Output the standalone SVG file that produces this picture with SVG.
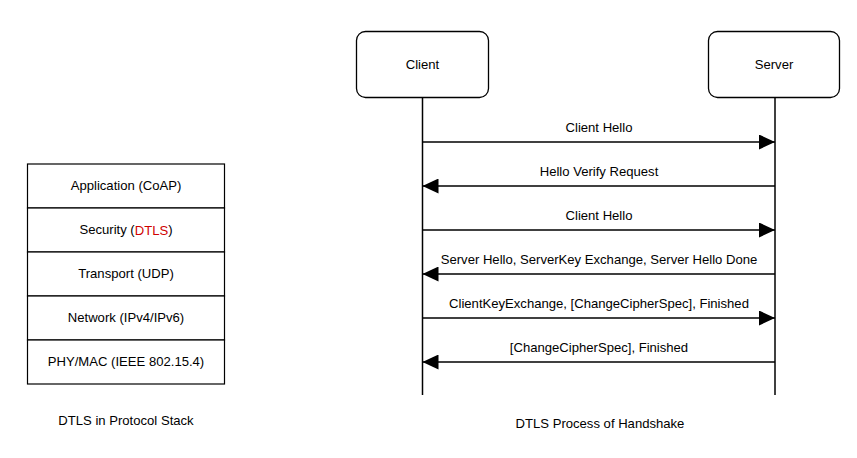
<svg xmlns="http://www.w3.org/2000/svg" width="857" height="458" viewBox="0 0 857 458">
<style>
text{font-family:"Liberation Sans",Arial,sans-serif;font-size:13.1px;fill:#000;text-anchor:middle;dominant-baseline:central}
.box{fill:#fff;stroke:#000;stroke-width:1.2}
.actor{fill:#fff;stroke:#000;stroke-width:1.3}
.line{stroke:#000;stroke-width:1.5;fill:none}
.msg{stroke:#000;stroke-width:1.5;fill:none}
</style>
<defs>
<marker id="ah" viewBox="0 0 16 15" refX="16" refY="7.5" markerWidth="16" markerHeight="15" markerUnits="userSpaceOnUse" orient="auto">
<path d="M0,0 L16,7.5 L0,15 Z" fill="#000"/>
</marker>
</defs>
<rect width="857" height="458" fill="#fff"/>
<g id="stack">
<g id="app"><rect class="box" x="27.5" y="164" width="197" height="44"/><text x="126" y="185.5">Application (CoAP)</text></g>
<g id="sec"><rect class="box" x="27.5" y="208" width="197" height="44"/><text x="126" y="229.5">Security (<tspan fill="#d00000">DTLS</tspan>)</text></g>
<g id="transport"><rect class="box" x="27.5" y="252" width="197" height="44"/><text x="126" y="273.5">Transport (UDP)</text></g>
<g id="network"><rect class="box" x="27.5" y="296" width="197" height="44"/><text x="126" y="317.5">Network (IPv4/IPv6)</text></g>
<g id="phy"><rect class="box" x="27.5" y="340" width="197" height="44"/><text x="126" y="361.5">PHY/MAC (IEEE 802.15.4)</text></g>
</g>
<g id="client"><rect class="actor" x="356.5" y="31.5" width="132" height="66" rx="9"/><text x="422.5" y="64.5">Client</text></g>
<g id="server"><rect class="actor" x="708.5" y="31.5" width="131" height="66" rx="9"/><text x="774" y="64.5">Server</text></g>
<g id="connectors">
<line class="line" x1="422.5" y1="97.5" x2="422.5" y2="395"/>
<line class="line" x1="775" y1="97.5" x2="775" y2="395"/>
<line class="msg" x1="422.5" y1="142" x2="775" y2="142" marker-end="url(#ah)"/>
<line class="msg" x1="775" y1="186" x2="422.5" y2="186" marker-end="url(#ah)"/>
<line class="msg" x1="422.5" y1="230" x2="775" y2="230" marker-end="url(#ah)"/>
<line class="msg" x1="775" y1="274" x2="422.5" y2="274" marker-end="url(#ah)"/>
<line class="msg" x1="422.5" y1="318" x2="775" y2="318" marker-end="url(#ah)"/>
<line class="msg" x1="775" y1="362" x2="422.5" y2="362" marker-end="url(#ah)"/>
<text x="599" y="127.5">Client Hello</text>
<text x="599" y="171.5">Hello Verify Request</text>
<text x="599" y="215.5">Client Hello</text>
<text x="599" y="259.5">Server Hello, ServerKey Exchange, Server Hello Done</text>
<text x="599" y="303.5">ClientKeyExchange, [ChangeCipherSpec], Finished</text>
<text x="599" y="347.5">[ChangeCipherSpec], Finished</text>
</g>
<text x="126" y="420.5">DTLS in Protocol Stack</text>
<text x="600" y="423.5">DTLS Process of Handshake</text>
</svg>
